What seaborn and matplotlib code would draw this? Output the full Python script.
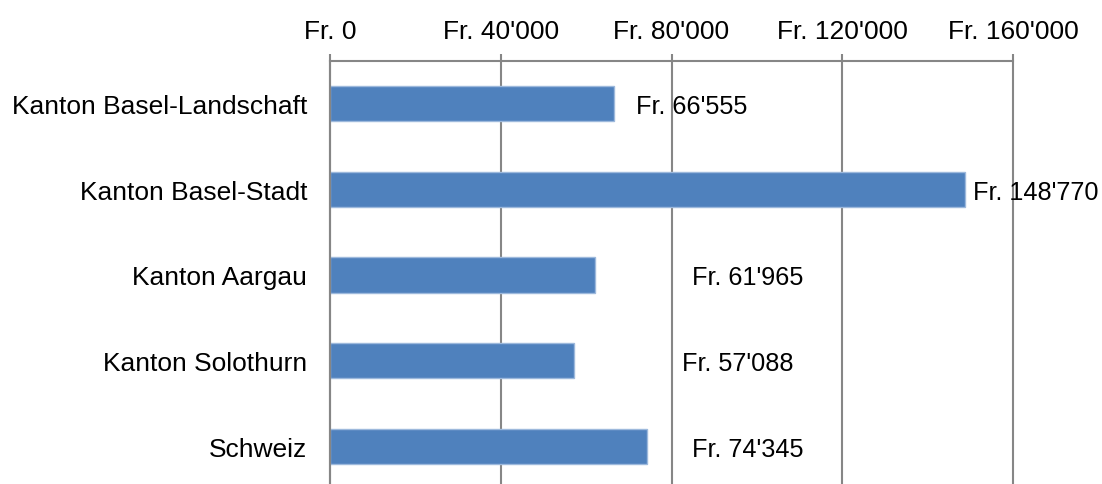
import matplotlib.pyplot as plt
import pandas as pd
import seaborn as sns

regions = ['Kanton Basel-Landschaft', 'Kanton Basel-Stadt', 'Kanton Aargau',
           'Kanton Solothurn', 'Schweiz']
values = [66555, 148770, 61965, 57088, 74345]
xticks = [0, 40000, 80000, 120000, 160000]
# how far each value label sits right of its bar end, in pixels
label_shift = [22, 8, 97, 108, 45]


def chf(v):
    return "Fr. " + f"{v:,}".replace(",", "'")


df = pd.DataFrame({'region': regions, 'value': values})

sns.set_style('white')
plt.rcParams['font.family'] = ['Liberation Sans', 'DejaVu Sans']
plt.rcParams['text.color'] = 'black'
plt.rcParams['xtick.labelcolor'] = 'black'
plt.rcParams['ytick.labelcolor'] = 'black'

fig = plt.figure(figsize=(11.02, 4.85), dpi=100)
ax = fig.add_axes([0.2995, -0.0103, 0.6198, 0.8825])

sns.barplot(data=df, x='value', y='region', orient='h', color='#4F81BD',
            saturation=1, width=0.41, edgecolor='#9DB9DC', linewidth=1, ax=ax)

ax.set_xlim(0, 160000)
ax.set_ylim(4.5, -0.5)
ax.xaxis.tick_top()
ax.set_xticks(xticks)
ax.set_xticklabels([chf(t) for t in xticks], fontsize=19)
ax.tick_params(axis='x', direction='out', length=5, width=1.5, color='#868686', pad=8)
ax.grid(axis='x', color='#868686', linewidth=1.5)
for gl in ax.get_xgridlines():
    gl.set_clip_on(False)
ax.set_axisbelow(True)

# y ticks sit between the categories, labels in the middle
ax.set_yticks([i - 0.5 for i in range(len(regions) + 1)])
ax.set_yticklabels([])
ax.set_yticks(range(len(regions)), minor=True)
ax.set_yticklabels(regions, minor=True, fontsize=19)
ax.tick_params(axis='y', which='major', direction='out', length=5, width=1.5, color='#868686')
ax.tick_params(axis='y', which='minor', length=0, pad=16.5)

ax.set_xlabel('')
ax.set_ylabel('')
for side in ['right', 'bottom']:
    ax.spines[side].set_visible(False)
for side in ['top', 'left']:
    ax.spines[side].set_color('#868686')
    ax.spines[side].set_linewidth(1.5)

for i, v in enumerate(values):
    ax.annotate(chf(v), xy=(v, i), xytext=(label_shift[i], 0),
                textcoords='offset pixels', ha='left', va='center_baseline', fontsize=18.2)

fig.savefig('out.png', dpi=100)
